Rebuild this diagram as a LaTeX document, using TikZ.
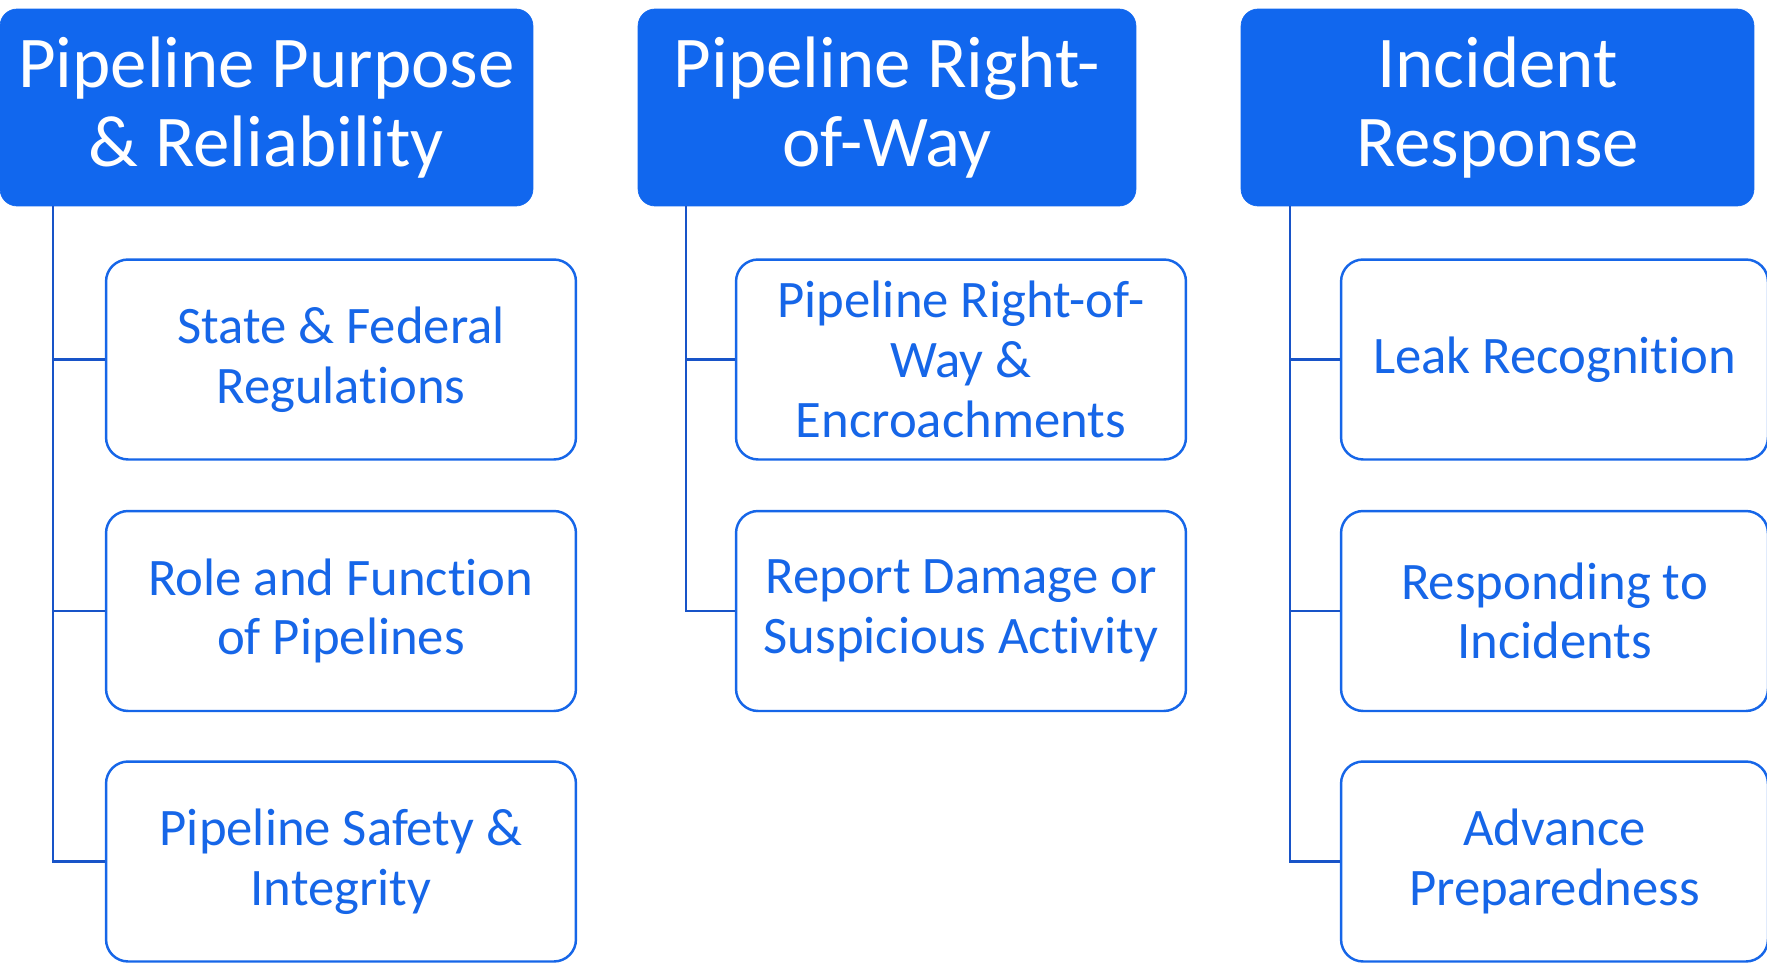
\documentclass[tikz,border=0pt]{standalone}
\usepackage{fontspec}
\setmainfont{Carlito}[RawFeature={-liga;-clig;-calt;-dlig}]
\definecolor{headblue}{RGB}{17,103,238}
\definecolor{boxblue}{RGB}{22,102,232}
\definecolor{linkblue}{RGB}{24,84,200}
\tikzset{
  head/.style={rounded corners=0.34cm, fill=headblue, draw=headblue, text=white, align=center,
    minimum height=3.94cm, inner sep=0pt, font=\fontsize{41.5}{45}\selectfont},
  topic/.style={rounded corners=0.44cm, draw=boxblue, line width=1.4pt, fill=white, text=boxblue,
    align=center, minimum height=4.0cm, inner sep=0pt, font=\fontsize{30}{34}\selectfont},
  link/.style={draw=linkblue, line width=1.2pt}
}
\begin{document}
\begin{tikzpicture}[x=0.02cm, y=-0.02cm]

\useasboundingbox (0,0) rectangle (1767,966);

\node[head, minimum width=10.66cm] (h1) at (266.5, 107.5) {Pipeline Purpose\\\& Reliability};
\node[head, minimum width=9.96cm] (h2) at (887, 107.5) {Pipeline Right-\\of-Way};
\node[head, minimum width=10.26cm] (h3) at (1497.5, 107.5) {Incident\\Response};

\coordinate (t1) at (53, 206);
\coordinate (t2) at (686, 206);
\coordinate (t3) at (1290, 206);

\node[topic, minimum width=9.4cm] (a1) at (341, 359.5) {State \& Federal\\Regulations};
\node[topic, minimum width=9.4cm] (a2) at (341, 611) {Role and Function\\of Pipelines};
\node[topic, minimum width=9.4cm] (a3) at (341, 861.5) {Pipeline Safety \&\\Integrity};

\node[topic, minimum width=9.0cm] (b1) at (961, 359.5) {Pipeline Right-of-\\Way \&\\Encroachments};
\node[topic, minimum width=9.0cm] (b2) at (961, 611) {Report Damage or\\Suspicious Activity};

\node[topic, minimum width=8.54cm] (c1) at (1554.5, 359.5) {Leak Recognition};
\node[topic, minimum width=8.54cm] (c2) at (1554.5, 611) {Responding to\\Incidents};
\node[topic, minimum width=8.54cm] (c3) at (1554.5, 861.5) {Advance\\Preparedness};

\draw[link] (t1) |- (a3.west);
\draw[link] (t1 |- a1.west) -- (a1.west);
\draw[link] (t1 |- a2.west) -- (a2.west);

\draw[link] (t2) |- (b2.west);
\draw[link] (t2 |- b1.west) -- (b1.west);

\draw[link] (t3) |- (c3.west);
\draw[link] (t3 |- c1.west) -- (c1.west);
\draw[link] (t3 |- c2.west) -- (c2.west);

\end{tikzpicture}
\end{document}
